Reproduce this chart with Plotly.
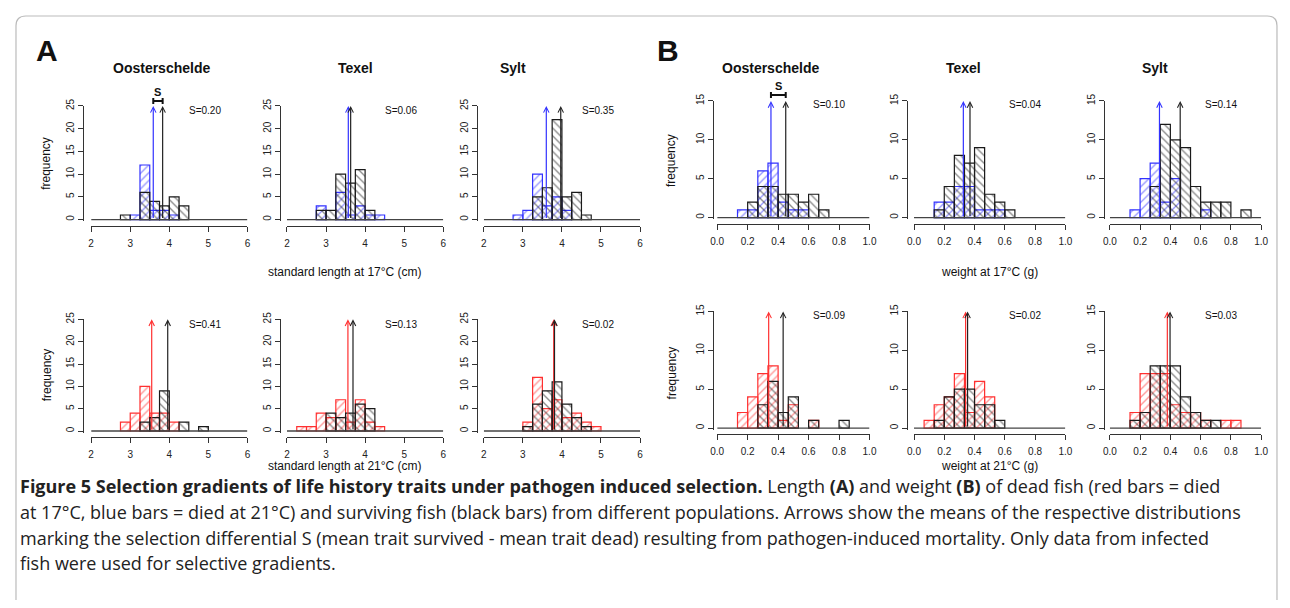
import plotly.graph_objects as go

# page = 1290x608; the html body keeps its default 8px margin
PAGE_W, PAGE_H = 1290, 608
BODY_M = 8
W, H = PAGE_W - 2 * BODY_M, PAGE_H - 2 * BODY_M

# ---------------- data ----------------
POPS = ["Oosterschelde", "Texel", "Sylt"]

# Panel A: standard length (cm); histogram bins of 0.25 cm (left edges)
A_BIN_LEFT = [2.25, 2.5, 2.75, 3.0, 3.25, 3.5, 3.75, 4.0, 4.25, 4.5, 4.75]
A_BIN_W = 0.25
A_TICKS = [2, 3, 4, 5, 6]

A17_DEAD_OOST = [0, 0, 0, 1, 12, 2, 2, 1, 0, 0, 0]
A17_SURV_OOST = [0, 0, 1, 0, 6, 4, 3, 5, 3, 0, 0]
A17_DEAD_TEX = [0, 0, 3, 0, 6, 1, 3, 1, 1, 0, 0]
A17_SURV_TEX = [0, 0, 2, 2, 10, 8, 11, 2, 0, 0, 0]
A17_DEAD_SYLT = [0, 0, 1, 2, 10, 3, 5, 2, 0, 0, 0]
A17_SURV_SYLT = [0, 0, 0, 0, 5, 7, 22, 5, 6, 1, 0]

A21_DEAD_OOST = [0, 0, 2, 4, 10, 4, 4, 2, 0, 0, 0]
A21_SURV_OOST = [0, 0, 0, 0, 2, 3, 9, 0, 2, 0, 1]
A21_DEAD_TEX = [1, 1, 4, 3, 7, 2, 7, 2, 1, 0, 0]
A21_SURV_TEX = [0, 0, 0, 4, 3, 4, 6, 5, 0, 0, 0]
A21_DEAD_SYLT = [0, 0, 0, 2, 12, 5, 7, 3, 4, 2, 1]
A21_SURV_SYLT = [0, 0, 0, 1, 6, 9, 11, 6, 3, 1, 0]

# means (arrow positions) and selection differentials
A17_MEAN_DEAD = [3.59, 3.57, 3.60]
A17_MEAN_SURV = [3.83, 3.63, 3.97]
A21_MEAN_DEAD = [3.55, 3.56, 3.79]
A21_MEAN_SURV = [3.96, 3.69, 3.81]
A17_S = ["S=0.20", "S=0.06", "S=0.35"]
A21_S = ["S=0.41", "S=0.13", "S=0.02"]

# Panel B: weight (g); histogram bins of 1/15 g (left edges)
B_BIN_LEFT = [1/15, 2/15, 3/15, 4/15, 5/15, 6/15, 7/15, 8/15, 9/15, 10/15, 11/15, 12/15, 13/15]
B_BIN_W = 1/15
B_TICKS = [0.0, 0.2, 0.4, 0.6, 0.8, 1.0]

B17_DEAD_OOST = [0, 1, 1, 6, 7, 2, 1, 1, 0, 0, 0, 0, 0]
B17_SURV_OOST = [0, 0, 2, 4, 4, 3, 3, 2, 3, 1, 0, 0, 0]
B17_DEAD_TEX = [0, 2, 2, 4, 4, 1, 1, 1, 0, 0, 0, 0, 0]
B17_SURV_TEX = [0, 1, 4, 8, 7, 9, 3, 2, 1, 0, 0, 0, 0]
B17_DEAD_SYLT = [0, 1, 5, 7, 2, 5, 0, 0, 1, 0, 0, 0, 0]
B17_SURV_SYLT = [0, 0, 0, 4, 12, 10, 9, 4, 2, 2, 2, 0, 1]

B21_DEAD_OOST = [0, 2, 4, 7, 8, 1, 3, 0, 1, 0, 0, 0, 0]
B21_SURV_OOST = [0, 0, 0, 3, 6, 2, 4, 0, 1, 0, 0, 1, 0]
B21_DEAD_TEX = [1, 3, 4, 7, 2, 6, 4, 0, 0, 0, 0, 0, 0]
B21_SURV_TEX = [0, 1, 4, 5, 5, 3, 3, 1, 0, 0, 0, 0, 0]
B21_DEAD_SYLT = [0, 2, 7, 7, 7, 3, 2, 2, 1, 0, 1, 1, 0]
B21_SURV_SYLT = [0, 1, 2, 8, 8, 8, 4, 2, 1, 1, 0, 0, 0]

B17_MEAN_DEAD = [0.353, 0.326, 0.328]
B17_MEAN_SURV = [0.450, 0.370, 0.465]
B21_MEAN_DEAD = [0.338, 0.341, 0.380]
B21_MEAN_SURV = [0.433, 0.354, 0.398]
B17_S = ["S=0.10", "S=0.04", "S=0.14"]
B21_S = ["S=0.09", "S=0.02", "S=0.03"]

XLABELS = ["standard length at 17°C (cm)", "standard length at 21°C (cm)",
           "weight at 17°C (g)", "weight at 21°C (g)"]

CAPTION = [
    "<b>Figure 5 Selection gradients of life history traits under pathogen induced selection.</b> Length <b>(A)</b> and weight <b>(B)</b> of dead fish (red bars = died",
    "at 17°C, blue bars = died at 21°C) and surviving fish (black bars) from different populations. Arrows show the means of the respective distributions",
    "marking the selection differential S (mean trait survived - mean trait dead) resulting from pathogen-induced mortality. Only data from infected",
    "fish were used for selective gradients.",
]

# ---------------- styling / layout ----------------
BLUE = "#3232ff"
RED = "#ff3030"
BLACK = "#1a1a1a"
AXC = "#333333"
FONT = "Liberation Sans"


def fx(px):
    return (px - BODY_M) / W


def fy(py):
    return 1 - (py - BODY_M) / H


# column pixel geometry (page px): (data-lo px, data-hi px, y-axis line px)
A_COLS = [(85, 243, 77), (283, 441, 276), (482, 640, 475)]
B_COLS = [(718, 872, 714), (917, 1070, 910), (1115, 1268, 1109)]
# row pixel geometry: (y=0 px, y=max px, x-axis line px)
A_ROWS = [(215, 100, 222), (429, 316, 435)]
B_ROWS = [(213, 95, 219), (426, 308, 432)]

panels = []
A_DEAD = [[A17_DEAD_OOST, A17_DEAD_TEX, A17_DEAD_SYLT], [A21_DEAD_OOST, A21_DEAD_TEX, A21_DEAD_SYLT]]
A_SURV = [[A17_SURV_OOST, A17_SURV_TEX, A17_SURV_SYLT], [A21_SURV_OOST, A21_SURV_TEX, A21_SURV_SYLT]]
B_DEAD = [[B17_DEAD_OOST, B17_DEAD_TEX, B17_DEAD_SYLT], [B21_DEAD_OOST, B21_DEAD_TEX, B21_DEAD_SYLT]]
B_SURV = [[B17_SURV_OOST, B17_SURV_TEX, B17_SURV_SYLT], [B21_SURV_OOST, B21_SURV_TEX, B21_SURV_SYLT]]
A_MD = [A17_MEAN_DEAD, A21_MEAN_DEAD]
A_MS = [A17_MEAN_SURV, A21_MEAN_SURV]
B_MD = [B17_MEAN_DEAD, B21_MEAN_DEAD]
B_MS = [B17_MEAN_SURV, B21_MEAN_SURV]
A_SL = [A17_S, A21_S]
B_SL = [B17_S, B21_S]

for r in range(2):
    for c in range(3):
        panels.append(dict(grp="A", r=r, c=c, col=A_COLS[c], row=A_ROWS[r], lo=2, hi=6, ymax=25,
                           yt=[0, 5, 10, 15, 20, 25], xt=A_TICKS, xtt=[str(v) for v in A_TICKS],
                           left=A_BIN_LEFT, bw=A_BIN_W, dead=A_DEAD[r][c], surv=A_SURV[r][c],
                           md=A_MD[r][c], ms=A_MS[r][c], s=A_SL[r][c],
                           dcol=BLUE if r == 0 else RED))
for r in range(2):
    for c in range(3):
        panels.append(dict(grp="B", r=r, c=c, col=B_COLS[c], row=B_ROWS[r], lo=0, hi=1, ymax=15,
                           yt=[0, 5, 10, 15], xt=B_TICKS, xtt=["%.1f" % v for v in B_TICKS],
                           left=B_BIN_LEFT, bw=B_BIN_W, dead=B_DEAD[r][c], surv=B_SURV[r][c],
                           md=B_MD[r][c], ms=B_MS[r][c], s=B_SL[r][c],
                           dcol=BLUE if r == 0 else RED))

fig = go.Figure()
layout_axes = {}
annotations = []
shapes = []


def label(cx, cy, text, size, family=FONT, angle=0, xanchor="center", color="#111"):
    annotations.append(dict(x=fx(cx), y=fy(cy), xref="paper", yref="paper", text=text,
                            xanchor=xanchor, yanchor="middle", textangle=angle, showarrow=False,
                            borderpad=0, font=dict(family=family, size=size, color=color)))


for i, p in enumerate(panels, start=1):
    xn = "x" if i == 1 else "x%d" % i
    yn = "y" if i == 1 else "y%d" % i
    xkey = "xaxis" if i == 1 else "xaxis%d" % i
    ykey = "yaxis" if i == 1 else "yaxis%d" % i
    x0, x1, yline = p["col"]
    y0, ytop, xline = p["row"]
    pad_px = 1.5
    ppu = (y0 - ytop) / p["ymax"]
    layout_axes[xkey] = dict(
        domain=[fx(x0), fx(x1)], range=[p["lo"], p["hi"]], anchor="free", position=fy(xline),
        showline=True, linecolor=AXC, linewidth=1, ticks="outside", ticklen=5, tickcolor=AXC,
        tickvals=p["xt"], ticktext=p["xtt"], tickfont=dict(family=FONT, size=10, color="#222"),
        showgrid=False, zeroline=False, ticklabelstandoff=3, fixedrange=True)
    layout_axes[ykey] = dict(
        domain=[fy(y0 + pad_px), fy(ytop)], range=[-pad_px / ppu, p["ymax"]], anchor="free",
        position=fx(yline), showline=True, linecolor=AXC, linewidth=1, ticks="outside", ticklen=5,
        tickcolor=AXC, tickvals=p["yt"], tickangle=-90,
        tickfont=dict(family=FONT, size=10, color="#222"), showgrid=False, zeroline=False,
        fixedrange=True)

    # baseline at zero
    fig.add_trace(go.Scatter(x=[p["lo"], p["hi"]], y=[0, 0], mode="lines",
                             line=dict(color="#444", width=1.3), xaxis=xn, yaxis=yn,
                             showlegend=False, hoverinfo="skip"))
    for counts, col, shp in ((p["dead"], p["dcol"], "/"), (p["surv"], BLACK, "\\")):
        xs = [l + p["bw"] / 2 for l, v in zip(p["left"], counts) if v > 0]
        ys = [v for v in counts if v > 0]
        fig.add_trace(go.Bar(
            x=xs, y=ys, width=p["bw"], xaxis=xn, yaxis=yn, showlegend=False,
            marker=dict(color="rgba(0,0,0,0)", line=dict(color=col, width=1.2),
                        pattern=dict(shape=shp, fgcolor=col, bgcolor="rgba(0,0,0,0)",
                                     size=5.5, solidity=0.25))))
    # arrows at means
    for m, col in ((p["md"], p["dcol"]), (p["ms"], "#222")):
        annotations.append(dict(x=m, y=p["ymax"], ax=m, ay=0, xref=xn, yref=yn, axref=xn, ayref=yn,
                                text="", showarrow=True, arrowhead=5, arrowsize=0.9,
                                arrowwidth=1.2, arrowcolor=col))
    # S value text
    if p["grp"] == "A":
        sx, sy = x1 - 43, ytop + 5
    else:
        sx, sy = x1 - 41, ytop + 4
    label(sx, sy, p["s"], 10)
    # S bracket in first panel of each group
    if p["r"] == 0 and p["c"] == 0:
        by = fy(ytop - 5) if p["grp"] == "A" else fy(ytop - 6)
        cap = 3 / H
        for xa, ya, xb, yb in ((p["md"], by, p["ms"], by),
                               (p["md"], by - cap, p["md"], by + cap),
                               (p["ms"], by - cap, p["ms"], by + cap)):
            shapes.append(dict(type="line", xref=xn, yref="paper", x0=xa, y0=ya, x1=xb, y1=yb,
                               line=dict(color="#111", width=2)))
        annotations.append(dict(x=(p["md"] + p["ms"]) / 2, y=by + 9 / H, xref=xn, yref="paper",
                                text="<b>S</b>", showarrow=False, xanchor="center", yanchor="middle",
                                font=dict(family=FONT, size=11, color="#111")))

# column titles
for cx, name in zip([156, 352, 512, 772, 967, 1161], POPS + POPS):
    label(cx, 62, "<b>%s</b>" % name, 14)
# group letters
label(40, 44, "<b>A</b>", 30)
label(668, 44, "<b>B</b>", 30)
# frequency labels
for cx, cy in ((40, 158), (40, 372), (672, 155), (672, 370)):
    label(cx, cy, "frequency", 12, angle=-90)
# x-axis labels
for (cx, cy), t in zip(((342, 268), (342, 464), (993, 268), (993, 464)), XLABELS):
    label(cx, cy, t, 12)
# caption
for k, line in enumerate(CAPTION):
    label(12, 485 + 26 * k, line, 18, family="Open Sans", xanchor="left", color="#222")

# frame
r_ = 10
x_a, x_b, y_a, y_b = fx(9), fx(1284), fy(9), fy(606)
rx, ry = r_ / W, r_ / H
path = ("M %f,%f L %f,%f Q %f,%f %f,%f L %f,%f Q %f,%f %f,%f L %f,%f L %f,%f Z" %
        (x_a, y_b, x_a, y_a - ry, x_a, y_a, x_a + rx, y_a, x_b - rx, y_a, x_b, y_a, x_b, y_a - ry,
         x_b, y_b, x_a, y_b))
shapes.append(dict(type="path", xref="paper", yref="paper", path=path,
                   line=dict(color="#bbbbbb", width=1.2), layer="below"))

fig.update_layout(width=W, height=H, margin=dict(l=0, r=0, t=0, b=0), autosize=False,
                  paper_bgcolor="white", plot_bgcolor="rgba(0,0,0,0)", barmode="overlay",
                  bargap=0, annotations=annotations, shapes=shapes, showlegend=False,
                  **layout_axes)
fig.write_html("out.html", config={"displayModeBar": False, "staticPlot": True})
